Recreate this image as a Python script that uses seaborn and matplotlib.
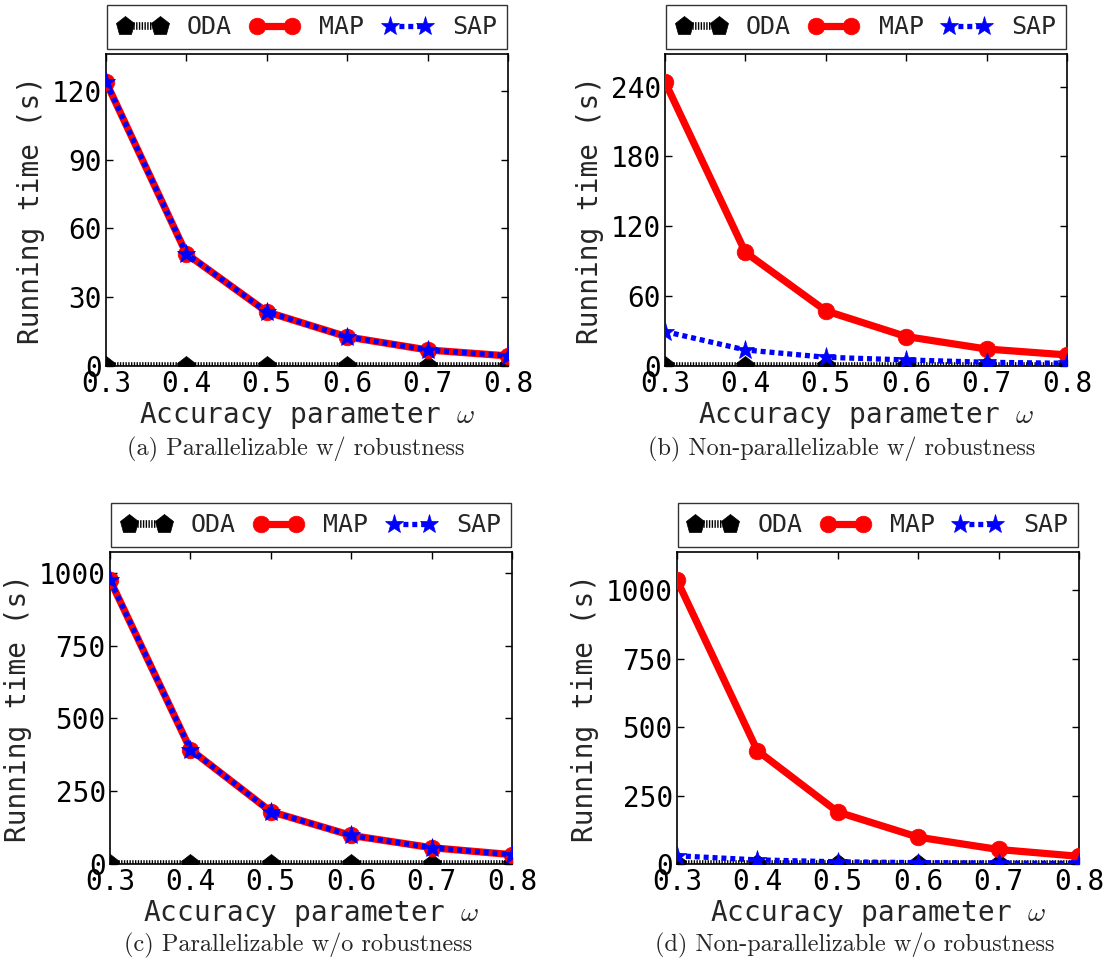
import numpy as np
import pandas as pd
import matplotlib
matplotlib.use("Agg")
import matplotlib.pyplot as plt
import seaborn as sns

# ---- data ----
omega = [0.3, 0.4, 0.5, 0.6, 0.7, 0.8]
xtick_labels = ["0.3", "0.4", "0.5", "0.6", "0.7", "0.8"]

oda_a = [0.1, 0.1, 0.1, 0.1, 0.1, 0.1]
map_a = [123.8, 48.9, 23.6, 12.7, 7.0, 4.4]
sap_a = [123.8, 48.9, 23.6, 12.7, 7.0, 4.4]

oda_b = [0.2, 0.2, 0.2, 0.2, 0.2, 0.2]
map_b = [244, 97.6, 47.4, 25.3, 14.6, 9.5]
sap_b = [29.6, 13.8, 7.5, 5.2, 3.2, 2.3]

oda_c = [0.5, 0.5, 0.5, 0.5, 0.5, 0.5]
map_c = [975, 393, 180, 98, 56, 32]
sap_c = [975, 393, 180, 98, 56, 32]

oda_d = [0.5, 0.5, 0.5, 0.5, 0.5, 0.5]
map_d = [1037, 414, 190, 98, 53, 28]
sap_d = [30, 15, 8, 5, 3, 2]

yticks_a = [0, 30, 60, 90, 120]
yticks_b = [0, 60, 120, 180, 240]
yticks_c = [0, 250, 500, 750, 1000]
yticks_d = [0, 250, 500, 750, 1000]

captions = ["(a) Parallelizable w/ robustness",
            "(b) Non-parallelizable w/ robustness",
            "(c) Parallelizable w/o robustness",
            "(d) Non-parallelizable w/o robustness"]

# ---- style ----
sns.set_style("ticks")
plt.rcParams["font.family"] = ["DejaVu Sans Mono", "DejaVu Sans"]
plt.rcParams["mathtext.fontset"] = "cm"
plt.rcParams["lines.scale_dashes"] = False
FS = 20
LFS = 18

fig = plt.figure(figsize=(11.11, 9.66), dpi=100)
W, H = 1111, 966
ax_w, ax_h = 402, 312
positions = [(106, 54), (665, 54), (110, 552), (677, 552)]  # left, top in px
caption_pos = [(296, 449), (842, 449), (298, 945), (855, 945)]
ylims = [136, 268, 1071, 1140]
panels = [(oda_a, map_a, sap_a, yticks_a),
          (oda_b, map_b, sap_b, yticks_b),
          (oda_c, map_c, sap_c, yticks_c),
          (oda_d, map_d, sap_d, yticks_d)]

for i, ((left, top), (oda, mp, sp, yt), ymax, cap, cpos) in enumerate(
        zip(positions, panels, ylims, captions, caption_pos)):
    ax = fig.add_axes([left / W, (H - top - ax_h) / H, ax_w / W, ax_h / H])
    df = pd.DataFrame({"omega": omega, "ODA": oda, "MAP": mp, "SAP": sp})
    sns.lineplot(data=df, x="omega", y="ODA", ax=ax, color="black", marker="p",
                 markersize=14, markeredgecolor="black", markeredgewidth=0.5,
                 linewidth=5.5, linestyle=(0, (1.0, 1.0)), label="ODA", zorder=3)
    sns.lineplot(data=df, x="omega", y="MAP", ax=ax, color="red", marker="o",
                 markersize=12, markeredgecolor="red", markeredgewidth=0.5,
                 linewidth=5.2, linestyle="-", label="MAP", zorder=4)
    sns.lineplot(data=df, x="omega", y="SAP", ax=ax, color="blue", marker="*",
                 markersize=14, markeredgecolor="blue", markeredgewidth=0.5,
                 linewidth=3.8, linestyle=(0, (3.6, 2.8)), label="SAP", zorder=5)
    ax.set_xlim(0.3, 0.8)
    ax.set_ylim(0, ymax)
    ax.set_xticks(omega)
    ax.set_xticklabels(xtick_labels)
    ax.set_yticks(yt)
    ax.set_yticklabels([str(v) for v in yt])
    ax.tick_params(direction="in", top=True, right=True, length=5, width=1,
                   labelsize=FS, colors="black", pad=3)
    for s in ax.spines.values():
        s.set_color("black")
        s.set_linewidth(1.2)
        s.set_visible(True)
    ax.set_xlabel("Accuracy parameter $\\omega$", fontsize=FS, labelpad=1)
    ax.set_ylabel("Running time (s)", fontsize=FS, labelpad=5)
    leg = ax.legend(loc="lower center", bbox_to_anchor=(0.5, 1.015), ncol=3,
                    fontsize=LFS, frameon=True, fancybox=False, edgecolor="black",
                    numpoints=2, handlelength=2.0, handletextpad=0.8,
                    columnspacing=0.7, borderpad=0.4, borderaxespad=0.0)
    leg.get_frame().set_linewidth(1.0)
    fig.text(cpos[0] / W, 1 - cpos[1] / H, cap, ha="center", va="center",
             fontsize=17.5, family=["cmr10", "DejaVu Serif"])

fig.savefig("out.png", dpi=100)
